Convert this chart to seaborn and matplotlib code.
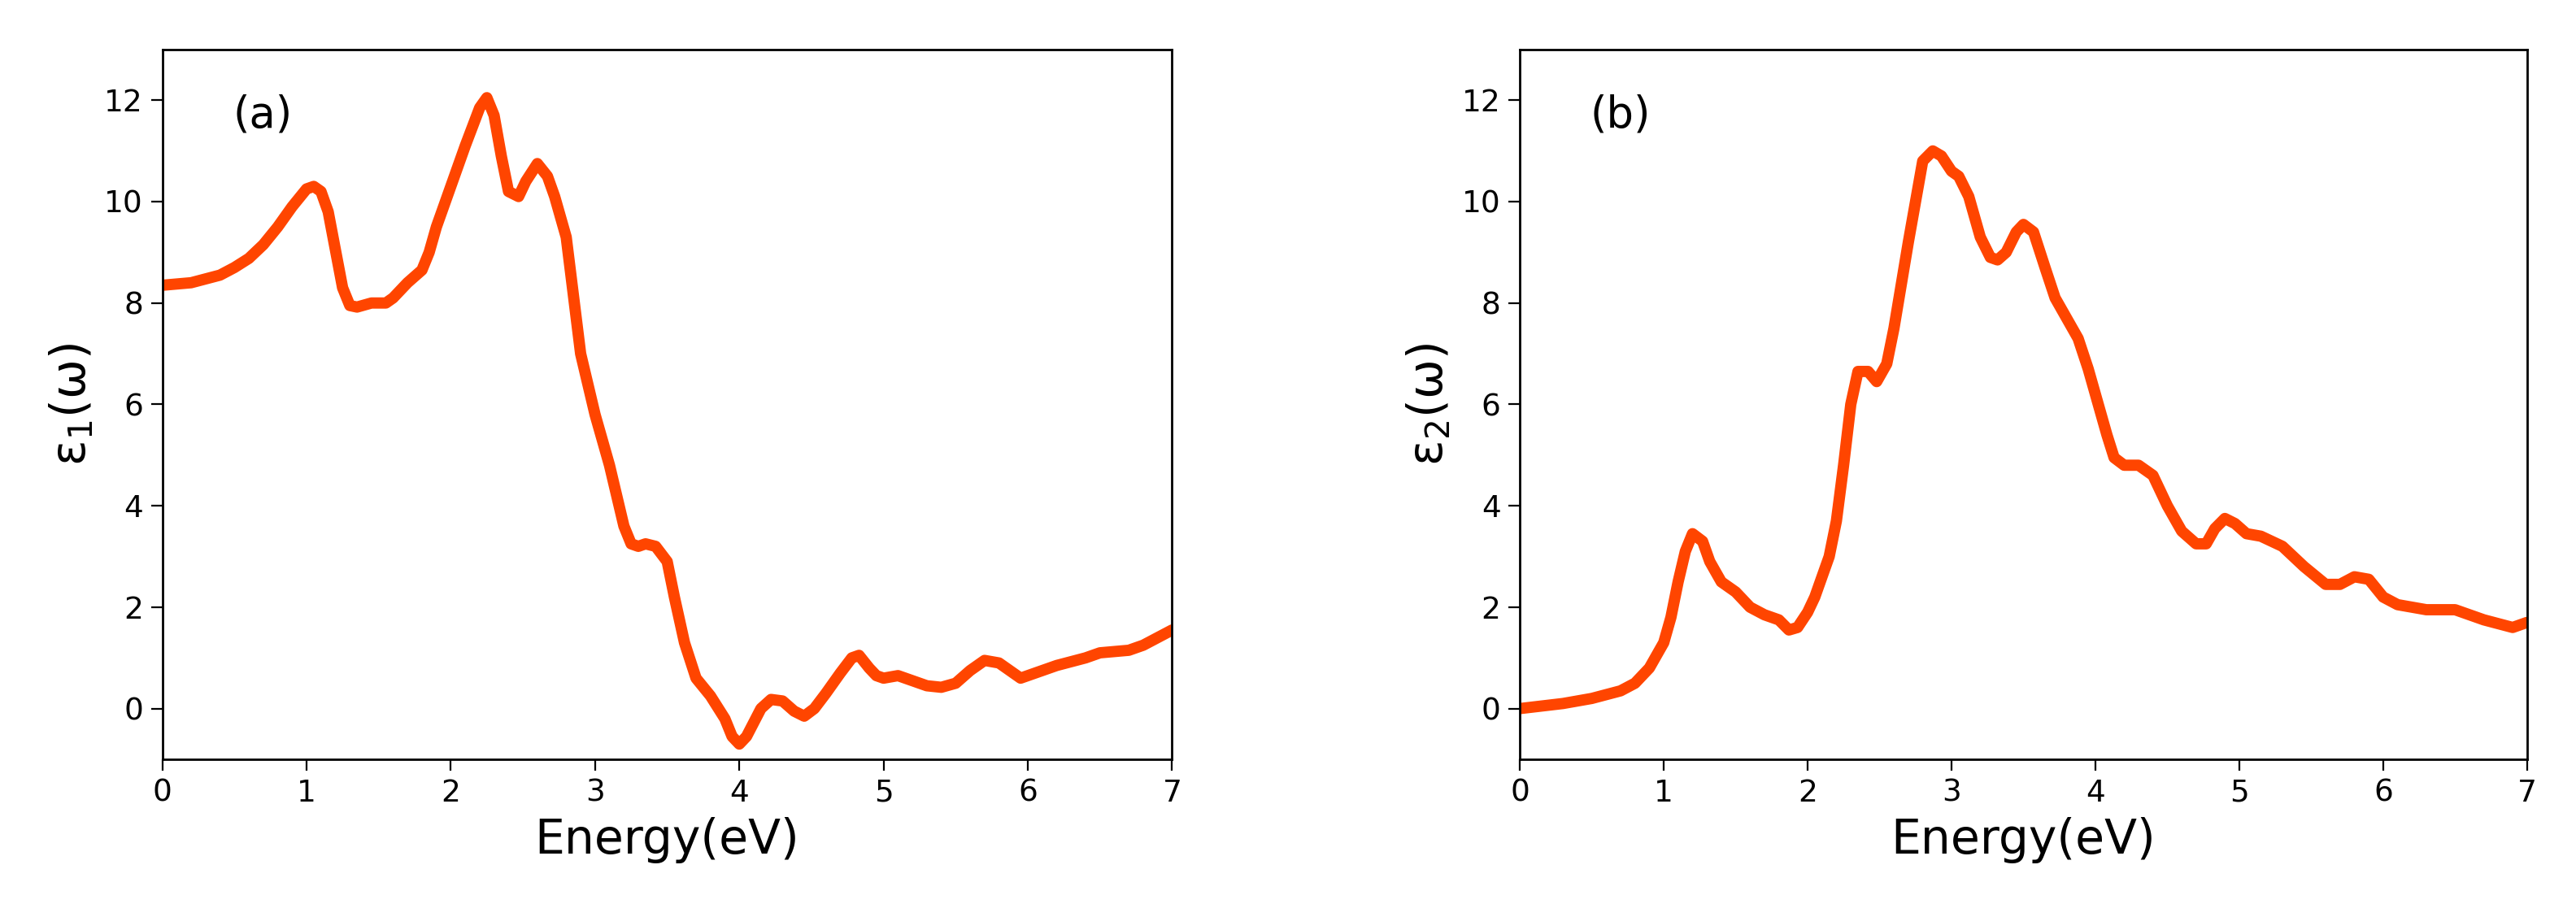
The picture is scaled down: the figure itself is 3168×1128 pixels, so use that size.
import matplotlib
matplotlib.use("Agg")
import matplotlib.pyplot as plt
import seaborn as sns

e1_x = [0,0.2,0.4,0.5,0.6,0.7,0.8,0.9,1.0,1.05,1.1,1.15,1.25,1.3,1.35,1.45,1.55,1.6,1.7,1.8,1.85,1.9,2.0,2.1,2.2,2.25,2.3,2.35,2.4,2.47,2.52,2.6,2.67,2.72,2.8,2.9,3.0,3.1,3.2,3.25,3.3,3.35,3.42,3.5,3.55,3.62,3.7,3.8,3.9,3.95,4.0,4.05,4.15,4.22,4.3,4.38,4.45,4.52,4.6,4.7,4.78,4.83,4.9,4.95,5.0,5.1,5.2,5.3,5.4,5.5,5.6,5.7,5.8,5.9,5.95,6.05,6.2,6.4,6.5,6.7,6.8,7.0]
e1_y = [8.35,8.4,8.55,8.7,8.88,9.15,9.5,9.9,10.25,10.3,10.2,9.8,8.3,7.95,7.92,8.0,8.0,8.1,8.4,8.65,9.0,9.5,10.3,11.1,11.85,12.05,11.7,10.9,10.2,10.1,10.4,10.75,10.5,10.1,9.3,7.0,5.8,4.8,3.6,3.25,3.2,3.25,3.2,2.9,2.2,1.3,0.6,0.25,-0.2,-0.55,-0.7,-0.55,0.0,0.18,0.15,-0.05,-0.15,0.0,0.3,0.7,1.0,1.05,0.8,0.65,0.6,0.65,0.55,0.45,0.42,0.5,0.75,0.95,0.9,0.7,0.6,0.7,0.85,1.0,1.1,1.15,1.25,1.55]
e2_x = [0,0.3,0.5,0.7,0.8,0.9,1.0,1.05,1.1,1.15,1.2,1.27,1.32,1.4,1.5,1.6,1.7,1.8,1.87,1.93,2.0,2.05,2.1,2.15,2.2,2.25,2.3,2.35,2.42,2.48,2.55,2.6,2.7,2.8,2.87,2.93,3.0,3.05,3.12,3.2,3.27,3.32,3.38,3.45,3.5,3.57,3.65,3.72,3.8,3.88,3.95,4.02,4.08,4.13,4.2,4.3,4.4,4.5,4.6,4.7,4.77,4.83,4.9,4.97,5.05,5.15,5.3,5.45,5.6,5.7,5.8,5.9,6.0,6.1,6.3,6.5,6.6,6.7,6.9,7.0]
e2_y = [0.0,0.1,0.2,0.35,0.5,0.8,1.3,1.8,2.5,3.1,3.45,3.3,2.9,2.5,2.3,2.0,1.85,1.75,1.55,1.6,1.9,2.2,2.6,3.0,3.7,4.8,6.0,6.65,6.65,6.45,6.8,7.5,9.2,10.8,11.0,10.9,10.6,10.5,10.1,9.3,8.9,8.85,9.0,9.4,9.55,9.4,8.7,8.1,7.7,7.3,6.7,6.0,5.4,4.95,4.8,4.8,4.6,4.0,3.5,3.25,3.25,3.55,3.75,3.65,3.45,3.4,3.2,2.8,2.45,2.45,2.6,2.55,2.2,2.05,1.95,1.95,1.85,1.75,1.6,1.7]

sns.set_style("ticks")
plt.rcParams.update({"text.color": "black", "axes.labelcolor": "black",
                     "xtick.color": "black", "ytick.color": "black"})
fig = plt.figure(figsize=(15.84, 5.64), dpi=200)
axes = [fig.add_axes([0.063, 0.172, 0.392, 0.774]), fig.add_axes([0.590, 0.172, 0.391, 0.774])]
data = [(e1_x, e1_y, r"ε$_1$(ω)", "(a)"), (e2_x, e2_y, r"ε$_2$(ω)", "(b)")]
for ax, (x, y, yl, lab) in zip(axes, data):
    sns.lineplot(x=x, y=y, ax=ax, color="#FF4500", lw=5, sort=False)
    ax.set_xlim(0, 7)
    ax.set_ylim(-1, 13)
    ax.set_xticks(range(0, 8))
    ax.set_yticks(range(0, 13, 2))
    ax.tick_params(labelsize=13.5, length=5)
    for s in ax.spines.values():
        s.set_color("black"); s.set_linewidth(1)
    ax.set_xlabel("Energy(eV)", fontsize=21)
    ax.set_ylabel(yl, fontsize=21)
    ax.text(0.07, 0.89, lab, transform=ax.transAxes, fontsize=19)
fig.savefig("out.png", dpi=200)
